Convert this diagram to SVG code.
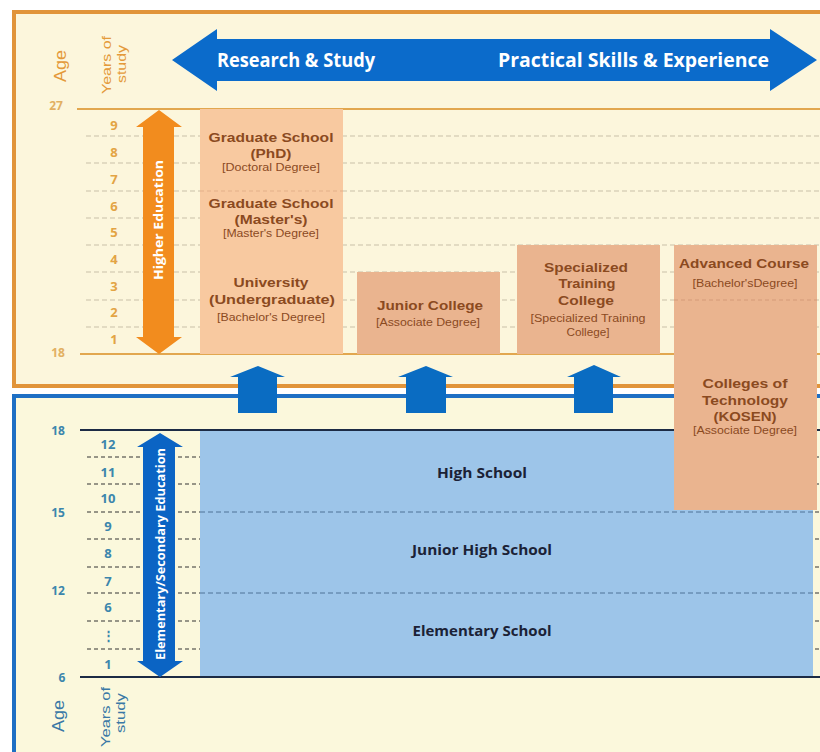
<svg xmlns="http://www.w3.org/2000/svg" width="820" height="752" viewBox="0 0 820 752">
<style>
text{font-family:"Open Sans","Liberation Sans",sans-serif}
.b{font-weight:700}
.t{font-family:"Liberation Sans",Arial,sans-serif;font-size:13.5px;font-weight:700;fill:#8B4A1F;text-anchor:middle}
.s{font-family:"Liberation Sans",Arial,sans-serif;font-size:10px;fill:#8B4A1F;text-anchor:middle}
.rl{font-family:"Liberation Sans",Arial,sans-serif;text-anchor:middle}
.sch{font-size:14px;font-weight:700;fill:#1B2236;text-anchor:middle}
.yt{font-size:13px;font-weight:700;fill:#E3A444;text-anchor:middle}
.at{font-size:12px;font-weight:700;fill:#E2B062;text-anchor:middle}
.yb{font-size:13px;font-weight:700;fill:#3C86AC;text-anchor:middle}
.ab{font-size:12px;font-weight:700;fill:#3C86AC;text-anchor:middle}
.dt{stroke:#C9C0A8;stroke-width:1;stroke-dasharray:5 3;fill:none}
.db{stroke:#333;stroke-width:1;stroke-dasharray:4 3;fill:none}
.dbl{stroke:#4F7397;stroke-width:1;stroke-dasharray:5 3;fill:none}
.peach{fill:#F8C9A0}
.peach2{fill:#EAB48F}
.up{fill:#0A6CC2}
</style>
<rect width="820" height="752" fill="#FFFFFF"/>
<!-- frames -->
<rect x="14" y="12" width="830" height="374" fill="#FCF6DC" stroke="#E1943A" stroke-width="4"/>
<rect x="14" y="396" width="830" height="380" fill="#FBF8DC" stroke="#1E6FC4" stroke-width="4"/>

<!-- header labels -->
<g id="header-top">
<text transform="translate(66,66) rotate(-90)" class="rl" font-size="17" fill="#E49A3A" textLength="32" lengthAdjust="spacingAndGlyphs">Age</text>
<text transform="translate(110.5,65) rotate(-90)" class="rl" font-size="13.5" fill="#E49A3A" textLength="58" lengthAdjust="spacingAndGlyphs">Years of</text>
<text transform="translate(125.5,64) rotate(-90)" class="rl" font-size="13.5" fill="#E49A3A" textLength="38" lengthAdjust="spacingAndGlyphs">study</text>
</g>

<!-- big double arrow -->
<g id="direction-arrow">
<path d="M172,60 L217,29 L217,39 L770,39 L770,29 L817,60 L770,91 L770,81 L217,81 L217,91 Z" fill="#0B6BCB"/>
<text x="296" y="67" class="b" font-size="19" fill="#FFFFFF" text-anchor="middle" textLength="158" lengthAdjust="spacingAndGlyphs">Research &amp; Study</text>
<text x="633.5" y="67" class="b" font-size="19" fill="#FFFFFF" text-anchor="middle" textLength="271" lengthAdjust="spacingAndGlyphs">Practical Skills &amp; Experience</text>
</g>

<!-- top grid -->
<g id="grid-top">
<line x1="86" y1="136" x2="820" y2="136" class="dt"/>
<line x1="86" y1="163" x2="820" y2="163" class="dt"/>
<line x1="86" y1="191" x2="820" y2="191" class="dt"/>
<line x1="86" y1="218" x2="820" y2="218" class="dt"/>
<line x1="86" y1="245" x2="820" y2="245" class="dt"/>
<line x1="86" y1="272" x2="820" y2="272" class="dt"/>
<line x1="86" y1="300" x2="820" y2="300" class="dt"/>
<line x1="86" y1="327" x2="820" y2="327" class="dt"/>
<line x1="77" y1="109" x2="820" y2="109" stroke="#E2A74F" stroke-width="2"/>
<line x1="80" y1="354" x2="820" y2="354" stroke="#E2A74F" stroke-width="2"/>
<text x="56" y="109.5" class="at">27</text>
<text x="58" y="356.5" class="at">18</text>
<text x="114" y="130" class="yt">9</text>
<text x="114" y="157" class="yt">8</text>
<text x="114" y="184" class="yt">7</text>
<text x="114" y="211" class="yt">6</text>
<text x="114" y="237" class="yt">5</text>
<text x="114" y="264" class="yt">4</text>
<text x="114" y="291" class="yt">3</text>
<text x="114" y="317" class="yt">2</text>
<text x="114" y="344" class="yt">1</text>
</g>

<!-- higher education arrow -->
<g id="higher-education">
<path d="M159,110 L182,127 L174,127 L174,337 L182,337 L159,354 L136,337 L143,337 L143,127 L136,127 Z" fill="#F28C1E"/>
<text transform="translate(163,220) rotate(-90)" class="b" font-size="13" fill="#FFFFFF" text-anchor="middle" textLength="120" lengthAdjust="spacingAndGlyphs">Higher Education</text>
</g>

<!-- bottom grid -->
<g id="grid-bottom">
<line x1="87" y1="457" x2="820" y2="457" class="db"/>
<line x1="87" y1="484" x2="820" y2="484" class="db"/>
<line x1="87" y1="512" x2="820" y2="512" class="db"/>
<line x1="87" y1="539" x2="820" y2="539" class="db"/>
<line x1="87" y1="567" x2="820" y2="567" class="db"/>
<line x1="87" y1="593" x2="820" y2="593" class="db"/>
<line x1="87" y1="621" x2="820" y2="621" class="db"/>
<line x1="87" y1="649" x2="820" y2="649" class="db"/>
</g>

<!-- middle up arrows (connectors) -->
<g id="connectors">
<path class="up" d="M258,366 L285,377 L277,377 L277,413 L238,413 L238,377 L230,377 Z"/>
<path class="up" d="M426,366 L453,377 L446,377 L446,413 L406,413 L406,377 L398,377 Z"/>
<path class="up" d="M594,365 L621,377 L613,377 L613,413 L574,413 L574,377 L567,377 Z"/>
</g>

<!-- bottom schools -->
<g id="schools">
<rect x="200" y="430" width="613" height="247" fill="#9DC5E9"/>
<line x1="200" y1="512" x2="813" y2="512" class="dbl"/>
<line x1="200" y1="593" x2="813" y2="593" class="dbl"/>
</g>
<g id="high-school"><text x="482" y="478" class="sch" textLength="90" lengthAdjust="spacingAndGlyphs">High School</text></g>
<g id="junior-high-school"><text x="482" y="555" class="sch" textLength="140" lengthAdjust="spacingAndGlyphs">Junior High School</text></g>
<g id="elementary-school"><text x="482" y="636" class="sch" textLength="139" lengthAdjust="spacingAndGlyphs">Elementary School</text></g>

<g id="bottom-axis">
<line x1="80" y1="430" x2="820" y2="430" stroke="#1C2B45" stroke-width="2"/>
<line x1="80" y1="677" x2="820" y2="677" stroke="#1C2B45" stroke-width="2"/>
<text x="58" y="435" class="ab">18</text>
<text x="58" y="517" class="ab">15</text>
<text x="58" y="595" class="ab">12</text>
<text x="62" y="682" class="ab">6</text>
<text x="108" y="449" class="yb">12</text>
<text x="108" y="477" class="yb">11</text>
<text x="108" y="503" class="yb">10</text>
<text x="108" y="531" class="yb">9</text>
<text x="108" y="558" class="yb">8</text>
<text x="108" y="586" class="yb">7</text>
<text x="108" y="612" class="yb">6</text>
<text x="108" y="640" class="yb" font-family="DejaVu Sans">⋮</text>
<text x="108" y="669" class="yb">1</text>
<text transform="translate(64,716) rotate(-90)" class="rl" font-size="17" fill="#3A78A6" textLength="32" lengthAdjust="spacingAndGlyphs">Age</text>
<text transform="translate(109.5,717) rotate(-90)" class="rl" font-size="13.5" fill="#3A78A6" textLength="60" lengthAdjust="spacingAndGlyphs">Years of</text>
<text transform="translate(124.5,713) rotate(-90)" class="rl" font-size="13.5" fill="#3A78A6" textLength="40" lengthAdjust="spacingAndGlyphs">study</text>
</g>

<!-- elementary/secondary arrow -->
<g id="elementary-secondary">
<path d="M160,433 L183,447 L175,447 L175,661 L183,661 L160,677 L137,661 L143,661 L143,447 L137,447 Z" fill="#0B64C4"/>
<text transform="translate(165,554) rotate(-90)" class="b" font-size="13" fill="#FFFFFF" text-anchor="middle" textLength="212" lengthAdjust="spacingAndGlyphs">Elementary/Secondary Education</text>
</g>

<!-- higher education boxes -->
<g id="graduate-phd">
<rect x="200" y="109" width="143" height="82" class="peach"/>
<text x="271" y="142" class="t" textLength="125" lengthAdjust="spacingAndGlyphs">Graduate School</text>
<text x="271" y="158" class="t" textLength="41" lengthAdjust="spacingAndGlyphs">(PhD)</text>
<text x="271" y="171" class="s" textLength="98" lengthAdjust="spacingAndGlyphs">[Doctoral Degree]</text>
</g>
<g id="graduate-masters">
<rect x="200" y="191" width="143" height="54" class="peach"/>
<line x1="200" y1="191" x2="343" y2="191" stroke="#E3B089" stroke-width="1" stroke-dasharray="4 3"/>
<text x="271" y="208" class="t" textLength="125" lengthAdjust="spacingAndGlyphs">Graduate School</text>
<text x="271" y="224" class="t" textLength="73" lengthAdjust="spacingAndGlyphs">(Master's)</text>
<text x="271" y="237" class="s" textLength="96" lengthAdjust="spacingAndGlyphs">[Master's Degree]</text>
</g>
<g id="university">
<rect x="200" y="245" width="143" height="109" class="peach"/>
<text x="271" y="287" class="t" textLength="75" lengthAdjust="spacingAndGlyphs">University</text>
<text x="272" y="304" class="t" textLength="126" lengthAdjust="spacingAndGlyphs">(Undergraduate)</text>
<text x="271" y="320.5" class="s" textLength="108" lengthAdjust="spacingAndGlyphs">[Bachelor's Degree]</text>
</g>
<g id="junior-college">
<rect x="357" y="272" width="143" height="82" class="peach2"/>
<text x="430" y="310" class="t" textLength="106" lengthAdjust="spacingAndGlyphs">Junior College</text>
<text x="428" y="325.5" class="s" textLength="104" lengthAdjust="spacingAndGlyphs">[Associate Degree]</text>
</g>
<g id="specialized-training-college">
<rect x="517" y="245" width="143" height="109" class="peach2"/>
<text x="586" y="272" class="t" textLength="84" lengthAdjust="spacingAndGlyphs">Specialized</text>
<text x="587" y="288" class="t" textLength="57" lengthAdjust="spacingAndGlyphs">Training</text>
<text x="586" y="305" class="t" textLength="56" lengthAdjust="spacingAndGlyphs">College</text>
<text x="588" y="321.5" class="s" textLength="115" lengthAdjust="spacingAndGlyphs">[Specialized Training</text>
<text x="588" y="335.5" class="s" textLength="43" lengthAdjust="spacingAndGlyphs">College]</text>
</g>
<g id="advanced-course">
<rect x="674" y="245" width="143" height="55" class="peach2"/>
<text x="744" y="268" class="t" textLength="130" lengthAdjust="spacingAndGlyphs">Advanced Course</text>
<text x="745" y="286.5" class="s" textLength="105" lengthAdjust="spacingAndGlyphs">[Bachelor'sDegree]</text>
</g>
<g id="kosen">
<rect x="674" y="300" width="143" height="210" class="peach2"/>
<line x1="674" y1="300" x2="817" y2="300" stroke="#D49A78" stroke-width="1" stroke-dasharray="4 3"/>
<text x="745" y="388" class="t" textLength="85" lengthAdjust="spacingAndGlyphs">Colleges of</text>
<text x="745" y="405" class="t" textLength="86" lengthAdjust="spacingAndGlyphs">Technology</text>
<text x="745" y="421" class="t" textLength="63" lengthAdjust="spacingAndGlyphs">(KOSEN)</text>
<text x="745" y="433.5" class="s" textLength="104" lengthAdjust="spacingAndGlyphs">[Associate Degree]</text>
</g>
</svg>
